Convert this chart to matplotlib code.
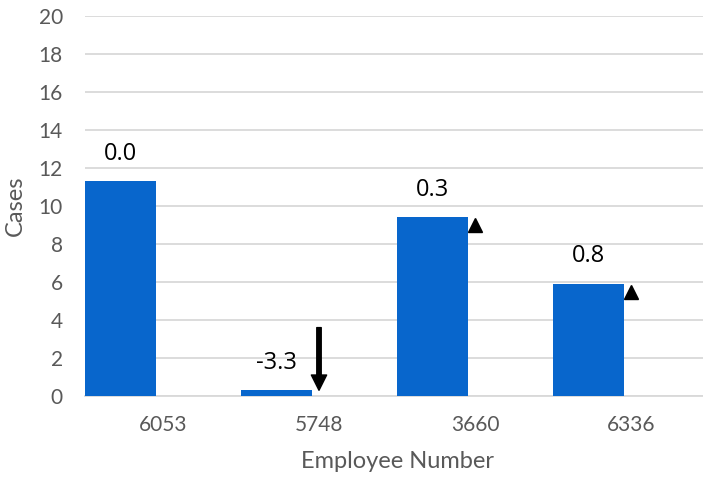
import numpy as np
import matplotlib.pyplot as plt

employees = ["6053", "5748", "3660", "6336"]
cases = [11.3, 0.3, 9.4, 5.9]
changes = [0.0, -3.3, 0.3, 0.8]
trend = ["none", "down", "up", "up"]

plt.rcParams["font.family"] = ["Lato", "DejaVu Sans"]

fig = plt.figure(figsize=(7.03, 4.83), dpi=100)
ax = fig.add_axes([85 / 703, 87 / 483, 624 / 703, 380 / 483])

x = np.arange(len(employees))
bar_w = 0.455

ax.bar(x - 0.5, cases, bar_w, align="edge", color="#0866CC", zorder=3)

for i in range(len(employees)):
    # value label above each bar
    ax.annotate(
        f"{changes[i]:.1f}",
        xy=(x[i] - 0.5 + bar_w / 2, cases[i]),
        xytext=(0, 20),
        textcoords="offset points",
        ha="center", va="center",
        fontsize=17, family=["Open Sans", "DejaVu Sans"],
        color="black",
    )
    if trend[i] == "up":
        ax.plot(x[i], cases[i] - 0.4, marker="^", markersize=10.5,
                color="black", zorder=4, clip_on=False)
    elif trend[i] == "down":
        ax.annotate(
            "", xy=(x[i], cases[i]), xytext=(x[i], cases[i] + 3.3),
            arrowprops=dict(facecolor="black", edgecolor="black",
                            width=3.2, headwidth=11, headlength=11, shrink=0),
            zorder=4,
        )

ax.set_xlim(-0.5, 3.5)
ax.set_ylim(0, 20)
ax.set_yticks(np.arange(0, 21, 2))
ax.set_xticks(x)
ax.set_xticklabels(employees)

ax.grid(axis="y", color="#D9D9D9", linewidth=1.3, zorder=0)
for s in ["top", "right", "left"]:
    ax.spines[s].set_visible(False)
ax.spines["bottom"].set_color("#D9D9D9")
ax.spines["bottom"].set_linewidth(1.3)

ax.tick_params(axis="both", length=0, labelsize=15, labelcolor="#595959")
ax.tick_params(axis="y", pad=16)
ax.tick_params(axis="x", pad=14)

ax.set_xlabel("Employee Number", fontsize=17, color="#595959", labelpad=11)
ax.set_ylabel("Cases", fontsize=17, color="#595959", labelpad=9)

fig.savefig("out.png", dpi=100)
